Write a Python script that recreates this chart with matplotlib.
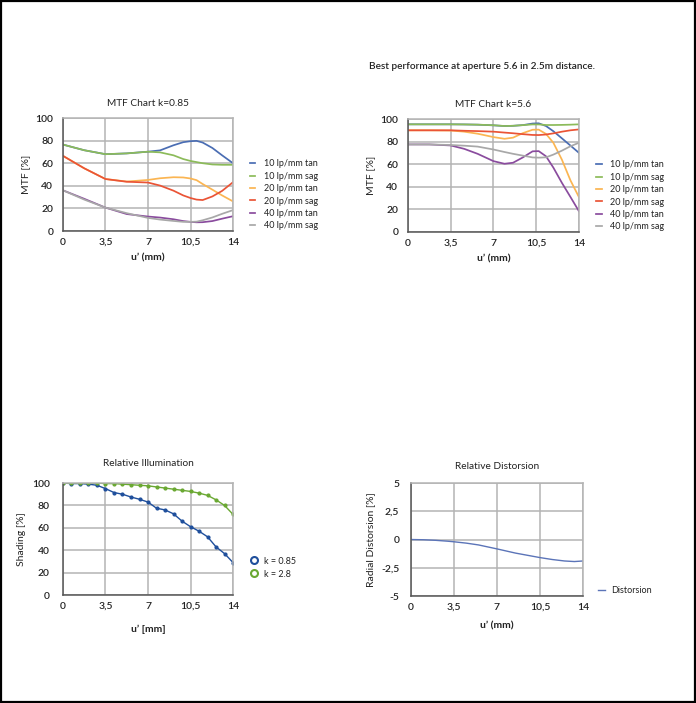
import matplotlib
matplotlib.use("Agg")
import matplotlib.pyplot as plt
from matplotlib.patches import Rectangle
from matplotlib.lines import Line2D

plt.rcParams['font.family'] = ['Lato', 'DejaVu Sans']

# ---------------- data ----------------
mtf_series_names = ["10 lp/mm tan", "10 lp/mm sag", "20 lp/mm tan",
                    "20 lp/mm sag", "40 lp/mm tan", "40 lp/mm sag"]

# MTF k=0.85
x_k085 = [0, 1.75, 3.5, 5.25, 7, 8, 9.1, 9.9, 10.5, 11, 11.5, 12.3, 13.1, 14]
k085_10tan = [76.5, 71.5, 68, 68.7, 70.2, 71.4, 75.9, 78.6, 79.5, 79.8, 78.3, 73.5, 67, 60]
k085_10sag = [76.5, 71.5, 68, 68.7, 70.2, 69.6, 67, 63.7, 62, 61, 60, 58.9, 58.6, 58.6]
k085_20tan = [66.5, 55.5, 46, 43.8, 45.2, 46.7, 47.6, 47.4, 46.5, 45, 41.6, 36.6, 31.5, 26.2]
k085_20sag = [66.5, 55.5, 46, 43.6, 42.9, 40.2, 35.7, 31.5, 29.2, 27.8, 27.4, 30.6, 35.5, 43.2]
k085_40tan = [36, 28.5, 20.7, 15, 12.8, 11.9, 10.4, 8.8, 8.1, 7.7, 7.8, 8.8, 10.9, 13.1]
k085_40sag = [36, 27.8, 20.7, 15.8, 11.6, 10.1, 8.9, 8.1, 8.1, 8.3, 9.5, 12, 15.2, 18.5]

# MTF k=5.6
x_k56 = [0, 1.75, 3.5, 4.6, 5.7, 7, 7.9, 8.6, 9.4, 10.2, 10.7, 11.3, 11.9, 12.6, 13.3, 14]
k56_10tan = [95.3, 95.3, 95.3, 95.2, 95, 94.4, 93.8, 94, 94.6, 96, 96.2, 93.8, 89.2, 82.9, 76.5, 70]
k56_10sag = [95.3, 95.3, 95.3, 95.2, 95, 94.5, 93.8, 94, 94.6, 95.2, 95.2, 94.7, 94.7, 94.8, 95, 95.3]
k56_20tan = [90, 90, 89.8, 88.8, 87, 84, 82.5, 83.5, 87.5, 90.5, 90.6, 86.8, 79, 64, 45.7, 30.8]
k56_20sag = [90, 90, 90, 89.6, 89.3, 88.8, 88, 87.4, 86.6, 85.9, 85.8, 86.3, 87.3, 88.8, 90, 90.8]
k56_40tan = [77.5, 77.5, 76.6, 73.6, 69.2, 62.7, 60.4, 61.3, 66, 71.4, 71.6, 67, 57, 43.5, 31, 18.3]
k56_40sag = [77.5, 77.5, 77, 76.4, 75.6, 73, 70.8, 69.2, 67.6, 66, 65.8, 66.1, 68.5, 72, 75.9, 79]

# Relative illumination
x_illum = [0, 0.7, 1.4, 2.1, 2.8, 3.5, 4.2, 4.9, 5.6, 6.3, 7.0, 7.7, 8.4, 9.1,
           9.8, 10.5, 11.2, 11.9, 12.6, 13.3, 14.0]
illum_k085 = [100, 99.5, 99.5, 99, 98, 95, 91.5, 90, 87.5, 85.5, 83, 77.5, 76,
              72.5, 66, 61, 57, 52, 43, 37, 29]
illum_k28 = [100, 100, 100, 100, 100, 99.5, 99.5, 99, 98.5, 98, 97.5, 96.5,
             95.5, 94.5, 93.5, 92.5, 91, 89, 85, 80, 72]

# Distortion
x_dist = [0, 1, 2, 3, 3.5, 4.5, 5.5, 7, 8.5, 10, 10.5, 11.5, 12.5, 13.3, 14]
dist_vals = [0, -0.02, -0.07, -0.15, -0.2, -0.32, -0.48, -0.83, -1.2, -1.5,
             -1.6, -1.77, -1.9, -1.95, -1.9]

x_ticks = [0, 3.5, 7, 10.5, 14]
x_ticklabels = ["0", "3,5", "7", "10,5", "14"]
mtf_yticks = [0, 20, 40, 60, 80, 100]
dist_yticks = [-5, -2.5, 0, 2.5, 5]
dist_yticklabels = ["-5", "-2,5", "0", "2,5", "5"]

mtf_colors = ["#4a6db3", "#8cbb5a", "#fbb552", "#ea5436", "#8a4c9e", "#a8a8a8"]
illum_colors = ["#1f4f9c", "#6aa832"]
dist_color = "#5b74b8"

TXT = "#222222"
GRID = "#b4b4b4"

fig = plt.figure(figsize=(6.96, 7.03), dpi=100)
fig.patch.set_facecolor("white")


def style_axes(ax, xlab, ylab, title, title_pad, ypad, xlabpad, ylabpad):
    ax.set_xlim(0, 14)
    ax.set_xticks(x_ticks)
    ax.set_xticklabels(x_ticklabels)
    ax.grid(True, color=GRID, linewidth=1.1)
    ax.set_axisbelow(True)
    for s in ["top", "right"]:
        ax.spines[s].set_color(GRID)
        ax.spines[s].set_linewidth(1.1)
    for s in ["left", "bottom"]:
        ax.spines[s].set_color("#555555")
        ax.spines[s].set_linewidth(1.1)
    ax.tick_params(axis="both", length=0, labelsize=7.5, colors=TXT)
    ax.tick_params(axis="x", pad=5)
    ax.tick_params(axis="y", pad=ypad)
    for lab in ax.get_xticklabels() + ax.get_yticklabels():
        lab.set_fontweight("semibold")
    ax.set_xlabel(xlab, fontsize=7.5, color=TXT, fontweight="bold", labelpad=xlabpad)
    ax.set_ylabel(ylab, fontsize=7.5, color=TXT, labelpad=ylabpad)
    ax.set_title(title, fontsize=7.3, color=TXT, pad=title_pad)


def mtf_chart(rect, xs, series, title, legx):
    ax = fig.add_axes(rect)
    for vals, c, name in zip(series, mtf_colors, mtf_series_names):
        ax.plot(xs, vals, color=c, linewidth=1.25, label=name)
    ax.set_ylim(0, 100)
    ax.set_yticks(mtf_yticks)
    style_axes(ax, "u’ (mm)", "MTF [%]", title, 9, 7, 5, 4)
    leg = ax.legend(loc="center left", bbox_to_anchor=(legx, 0.32),
                    frameon=False, fontsize=6.5, handlelength=0.6,
                    handletextpad=0.9, labelspacing=0.38, borderaxespad=0,
                    borderpad=0)
    for t in leg.get_texts():
        t.set_color(TXT)
    return ax


mtf_chart([0.0905, 0.6714, 0.2443, 0.1607], x_k085,
          [k085_10tan, k085_10sag, k085_20tan, k085_20sag, k085_40tan, k085_40sag],
          "MTF Chart k=0.85", 1.1)
mtf_chart([0.5862, 0.6700, 0.2457, 0.1607], x_k56,
          [k56_10tan, k56_10sag, k56_20tan, k56_20sag, k56_40tan, k56_40sag],
          "MTF Chart k=5.6", 1.1)

# Relative illumination
ax3 = fig.add_axes([0.0905, 0.1536, 0.2443, 0.1593])
ax3.plot(x_illum, illum_k085, color=illum_colors[0], linewidth=1.0,
         marker="o", markersize=2.0)
ax3.plot(x_illum, illum_k28, color=illum_colors[1], linewidth=1.0,
         marker="o", markersize=2.0)
ax3.set_ylim(0, 100)
ax3.set_yticks(mtf_yticks)
style_axes(ax3, "u’ [mm]", "Shading [%]", "Relative Illumination", 12, 9.5, 10, 4)
handles = [Line2D([], [], linestyle="none", marker="o", markersize=5,
                  markerfacecolor="white", markeredgecolor=c, markeredgewidth=1.5)
           for c in illum_colors]
leg3 = ax3.legend(handles, ["k = 0.85", "k = 2.8"], loc="center left",
                  bbox_to_anchor=(1.1, 0.245), frameon=False, fontsize=6.5,
                  handlelength=0.8, handletextpad=0.8, labelspacing=0.45,
                  borderaxespad=0, borderpad=0)
for t in leg3.get_texts():
    t.set_color(TXT)

# Distortion
ax4 = fig.add_axes([0.5905, 0.1522, 0.2471, 0.1607])
ax4.plot(x_dist, dist_vals, color=dist_color, linewidth=1.0, label="Distorsion")
ax4.set_ylim(-5, 5)
ax4.set_yticks(dist_yticks)
ax4.set_yticklabels(dist_yticklabels)
style_axes(ax4, "u’ (mm)", "Radial Distorsion [%]", "Relative Distorsion", 10, 8.5, 6.5, 4)
leg4 = ax4.legend(loc="center left", bbox_to_anchor=(1.09, 0.05), frameon=False,
                  fontsize=6.5, handlelength=0.7, handletextpad=0.7,
                  borderaxespad=0, borderpad=0)
for t in leg4.get_texts():
    t.set_color(TXT)

fig.text(0.692, 0.906, "Best performance at aperture 5.6 in 2.5m distance.",
         ha="center", va="center", fontsize=7.2, color=TXT, fontweight="semibold")

# outer frame
fig.patches.append(Rectangle((0.001, 0.001), 0.997, 0.997, transform=fig.transFigure,
                             fill=False, edgecolor="black", linewidth=1.6))

fig.savefig("out.png", dpi=100, facecolor="white")
